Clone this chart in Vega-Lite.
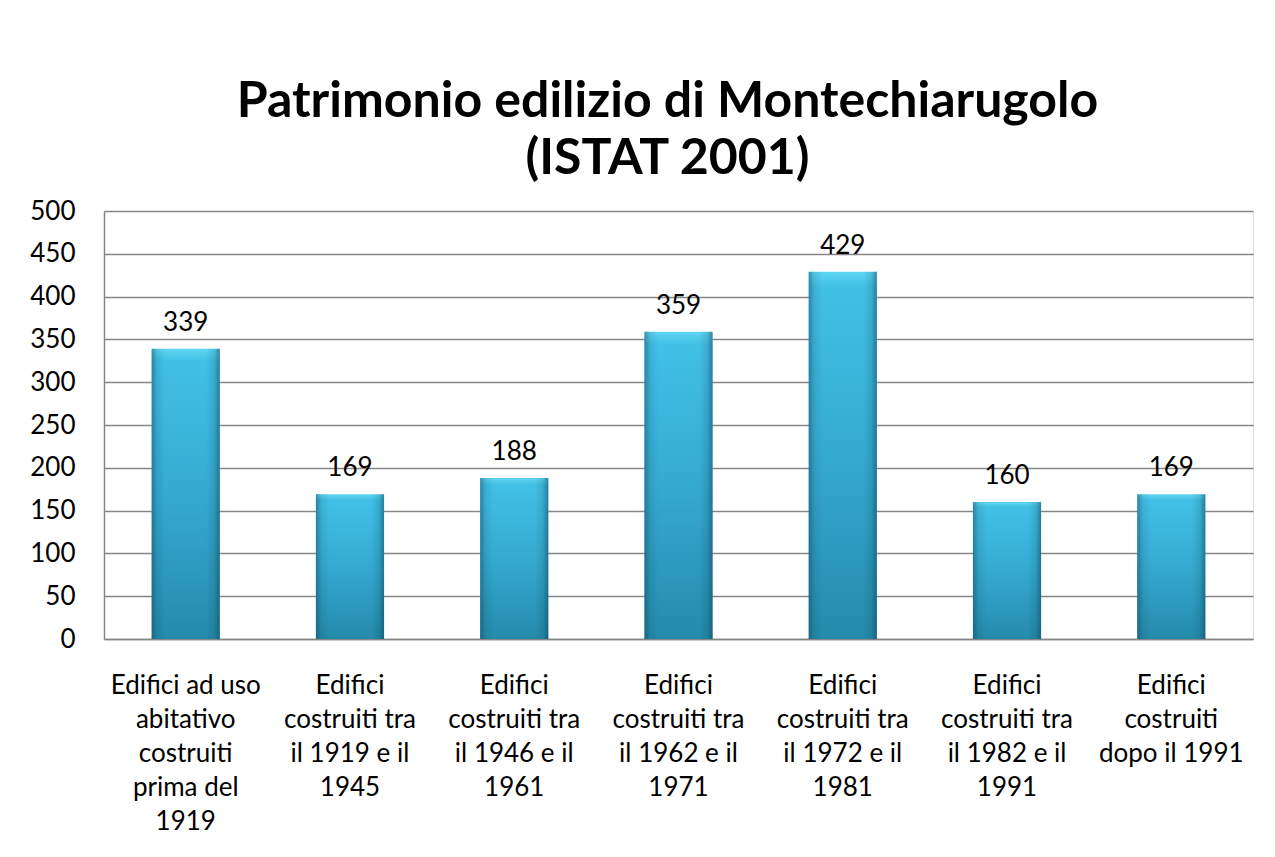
{
  "$schema": "https://vega.github.io/schema/vega-lite/v6.json",
  "autosize": {"type": "none"},
  "width": 1149,
  "height": 428,
  "padding": {"left": 104, "top": 211, "right": 22, "bottom": 218},
  "background": "white",
  "title": {
    "text": ["Patrimonio edilizio di Montechiarugolo", "(ISTAT 2001)"],
    "font": "Lato",
    "fontSize": 50,
    "fontWeight": "bold",
    "color": "#000000",
    "anchor": "middle",
    "lineHeight": 57,
    "offset": 14,
    "dx": -11
  },
  "data": {
    "values": [
      {"categoria": "Edifici ad uso|abitativo|costruiti|prima del|1919", "edifici": 339},
      {"categoria": "Edifici|costruiti tra|il 1919 e il|1945", "edifici": 169},
      {"categoria": "Edifici|costruiti tra|il 1946 e il|1961", "edifici": 188},
      {"categoria": "Edifici|costruiti tra|il 1962 e il|1971", "edifici": 359},
      {"categoria": "Edifici|costruiti tra|il 1972 e il|1981", "edifici": 429},
      {"categoria": "Edifici|costruiti tra|il 1982 e il|1991", "edifici": 160},
      {"categoria": "Edifici|costruiti|dopo il 1991", "edifici": 169}
    ]
  },
  "encoding": {
    "x": {
      "field": "categoria",
      "type": "nominal",
      "sort": null,
      "scale": {"paddingInner": 0.585, "paddingOuter": 0.29},
      "axis": {
        "title": null,
        "labelAngle": 0,
        "labelExpr": "split(datum.value, '|')",
        "labelFont": "Lato",
        "labelFontSize": 26,
        "labelColor": "#000000",
        "labelLineHeight": 34,
        "labelPadding": 33,
        "labelBaseline": "top",
        "ticks": false,
        "domainColor": "#868686",
        "domainWidth": 1.5,
        "labelLimit": 0
      }
    },
    "y": {
      "field": "edifici",
      "type": "quantitative",
      "scale": {"domain": [0, 500], "nice": false},
      "axis": {
        "title": null,
        "values": [0, 50, 100, 150, 200, 250, 300, 350, 400, 450, 500],
        "labelFont": "Lato",
        "labelFontSize": 26,
        "labelColor": "#000000",
        "labelPadding": 29,
        "ticks": false,
        "grid": true,
        "gridColor": "#868686",
        "gridWidth": 1.5,
        "domainColor": "#868686",
        "domainWidth": 1.5
      }
    }
  },
  "layer": [
    {
      "mark": {
        "type": "bar",
        "fill": {
          "gradient": "linear",
          "x1": 0, "y1": 0, "x2": 0, "y2": 1,
          "stops": [
            {"offset": 0, "color": "#5fd6f4"},
            {"offset": 0.04, "color": "#42c0e6"},
            {"offset": 0.5, "color": "#35aad1"},
            {"offset": 1, "color": "#258aab"}
          ]
        }
      }
    },
    {
      "mark": {
        "type": "bar",
        "fill": {
          "gradient": "linear",
          "x1": 0, "y1": 0, "x2": 1, "y2": 0,
          "stops": [
            {"offset": 0, "color": "rgba(10,60,80,0.45)"},
            {"offset": 0.08, "color": "rgba(10,60,80,0.12)"},
            {"offset": 0.2, "color": "rgba(10,60,80,0)"},
            {"offset": 0.8, "color": "rgba(10,60,80,0)"},
            {"offset": 0.92, "color": "rgba(10,60,80,0.15)"},
            {"offset": 1, "color": "rgba(10,60,80,0.5)"}
          ]
        }
      }
    },
    {
      "mark": {
        "type": "text",
        "font": "Lato",
        "fontSize": 26,
        "color": "#000000",
        "baseline": "bottom",
        "dy": -13
      },
      "encoding": {"text": {"field": "edifici", "type": "quantitative"}}
    }
  ]
}
